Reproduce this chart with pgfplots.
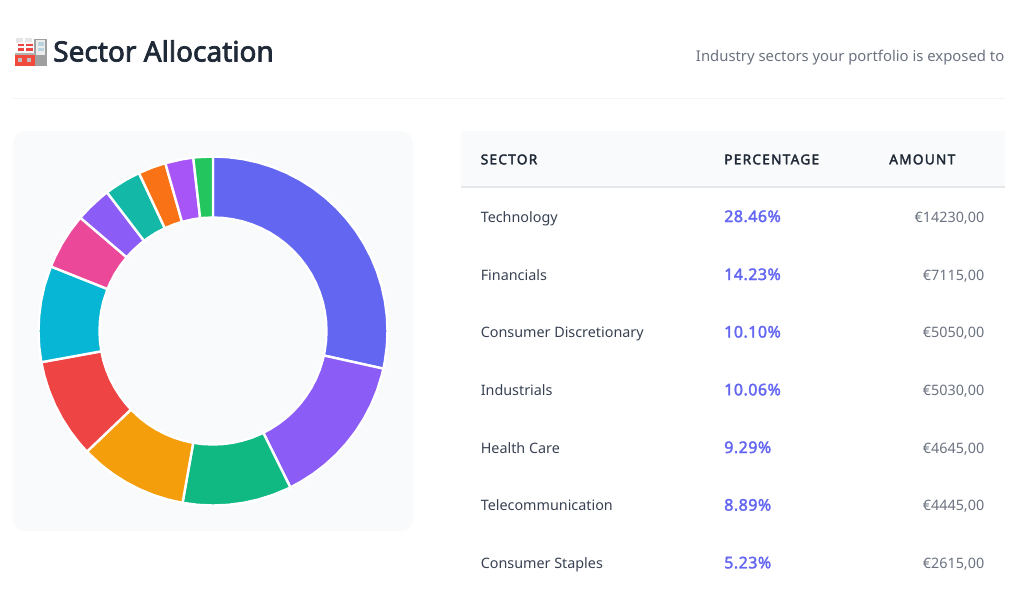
\documentclass[border=0pt]{standalone}
\usepackage{fontspec}
\setmainfont{Noto Sans}
\newfontfamily\titlefont[FakeBold=2.6]{Noto Sans}
\newfontfamily\pctfont[FakeBold=2.2,LetterSpace=3]{Noto Sans}
\newfontfamily\headfont[FakeBold=2.6,LetterSpace=9.5]{Noto Sans}
\usepackage{pgfplots}
\pgfplotsset{compat=1.18}
\usepgfplotslibrary{polar}

\definecolor{s1}{HTML}{6366F1}
\definecolor{s2}{HTML}{8B5CF6}
\definecolor{s3}{HTML}{10B981}
\definecolor{s4}{HTML}{F59E0B}
\definecolor{s5}{HTML}{EF4444}
\definecolor{s6}{HTML}{06B6D4}
\definecolor{s7}{HTML}{EC4899}
\definecolor{s8}{HTML}{8B5CF6}
\definecolor{s9}{HTML}{14B8A6}
\definecolor{s10}{HTML}{F97316}
\definecolor{s11}{HTML}{A855F7}
\definecolor{s12}{HTML}{22C55E}
\definecolor{ink}{HTML}{1F2937}
\definecolor{body}{HTML}{374151}
\definecolor{muted}{HTML}{6B7280}
\definecolor{panel}{HTML}{F9FAFB}
\definecolor{rulea}{HTML}{F3F4F6}
\definecolor{ruleb}{HTML}{E5E7EB}

% sizes given in css pixels, 1px = 0.75pt
\newcommand{\px}[1]{\fontsize{\fpeval{#1*0.75}}{\fpeval{#1*0.9}}\selectfont}
\newcommand{\row}[4]{%
  \node[anchor=base west,inner sep=0,text=body] at (480.5,#1) {\px{14.35}#2};
  \node[anchor=base west,inner sep=0,text=s1] at (724,#1) {\px{16}\pctfont #3};
  \node[anchor=base east,inner sep=0,text=muted] at (984.5,#1) {\px{14.35}#4};
}

\begin{document}
\begin{tikzpicture}
\path[use as bounding box] (0,0) rectangle (765pt,-445.5pt);

\begin{scope}[x=0.75pt,y=-0.75pt]
  % card and table header
  \fill[panel,rounded corners=9pt] (13,131) rectangle (413,531);
  \fill[panel] (461,131) rectangle (1005,186);
  \fill[ruleb] (461,186) rectangle (1005,188);
  \fill[rulea] (13,98) rectangle (1005,99);

  % factory emoji
  \fill[gray!20] (15.5,38) rectangle (23,43);
  \fill[gray!20] (25,38) rectangle (32,43);
  \fill[gray!8] (17.5,42) rectangle (23.5,55);
  \fill[gray!8] (26,42) rectangle (32.5,55);
  \fill[s5] (17.5,43.5) rectangle (23.5,46);
  \fill[s5] (17.5,48) rectangle (23.5,50.5);
  \fill[s5] (26,43.5) rectangle (32.5,46);
  \fill[s5] (26,48) rectangle (32.5,50.5);
  \fill[gray!75] (34.3,39) rectangle (46.5,66);
  \fill[gray!15] (35.5,40) rectangle (45,55);
  \fill[cyan!40!gray!45] (37.5,42) rectangle (44,46);
  \fill[cyan!40!gray!45] (37.5,47.5) rectangle (44,51);
  \fill[gray!60] (15,52.5) rectangle (35,55);
  \fill[s5!90!orange] (15,55) rectangle (35,66);
  \fill[gray!50] (18,57.5) rectangle (22,61.5);
  \fill[gray!50] (27,57.5) rectangle (31,61.5);

  % heading
  \node[anchor=base west,inner sep=0,text=ink] at (53,61.5) {\px{28}\titlefont Sector Allocation};
  \node[anchor=base east,inner sep=0,text=muted] at (1004.5,61.5) {\px{14.85}Industry sectors your portfolio is exposed to};

  % table
  \node[anchor=base west,inner sep=0,text=ink] at (480.5,164.3) {\px{13.6}\headfont SECTOR};
  \node[anchor=base west,inner sep=0,text=ink] at (724,164.3) {\px{13.6}\headfont PERCENTAGE};
  \node[anchor=base west,inner sep=0,text=ink] at (889,164.3) {\px{13.6}\headfont AMOUNT};
  \row{222}{Technology}{28.46\%}{€14230,00}
  \row{280}{Financials}{14.23\%}{€7115,00}
  \row{337.5}{Consumer Discretionary}{10.10\%}{€5050,00}
  \row{395.3}{Industrials}{10.06\%}{€5030,00}
  \row{453}{Health Care}{9.29\%}{€4645,00}
  \row{510.6}{Telecommunication}{8.89\%}{€4445,00}
  \row{568.3}{Consumer Staples}{5.23\%}{€2615,00}
\end{scope}

\begin{polaraxis}[
    at={(159.75pt,-248.25pt)},anchor=center,
    scale only axis,width=261pt,height=261pt,
    hide axis,clip=false,
    xmin=0,xmax=360,ymin=0,ymax=174,
    every axis plot/.append style={draw=white,line width=1.8pt,line join=miter,no markers},
  ]
  % Technology 28.46
  \addplot[fill=s1] coordinates {
    (90,174.5)(85,174.5)(80,174.5)(75,174.5)(70,174.5)(65,174.5)(60,174.5)(55,174.5)(50,174.5)(45,174.5)(40,174.5)(35,174.5)(30,174.5)(25,174.5)(20,174.5)(15,174.5)(10,174.5)(5,174.5)(0,174.5)(-5,174.5)(-10,174.5)(-12.456,174.5)
    (-12.456,113.5)(-10,113.5)(-5,113.5)(0,113.5)(5,113.5)(10,113.5)(15,113.5)(20,113.5)(25,113.5)(30,113.5)(35,113.5)(40,113.5)(45,113.5)(50,113.5)(55,113.5)(60,113.5)(65,113.5)(70,113.5)(75,113.5)(80,113.5)(85,113.5)(90,113.5)(90,174.5)};
  % Financials 14.23
  \addplot[fill=s2] coordinates {
    (-12.456,174.5)(-15,174.5)(-20,174.5)(-25,174.5)(-30,174.5)(-35,174.5)(-40,174.5)(-45,174.5)(-50,174.5)(-55,174.5)(-60,174.5)(-63.684,174.5)
    (-63.684,113.5)(-60,113.5)(-55,113.5)(-50,113.5)(-45,113.5)(-40,113.5)(-35,113.5)(-30,113.5)(-25,113.5)(-20,113.5)(-15,113.5)(-12.456,113.5)(-12.456,174.5)};
  % Consumer Discretionary 10.10
  \addplot[fill=s3] coordinates {
    (-63.684,174.5)(-65,174.5)(-70,174.5)(-75,174.5)(-80,174.5)(-85,174.5)(-90,174.5)(-95,174.5)(-100.044,174.5)
    (-100.044,113.5)(-95,113.5)(-90,113.5)(-85,113.5)(-80,113.5)(-75,113.5)(-70,113.5)(-65,113.5)(-63.684,113.5)(-63.684,174.5)};
  % Industrials 10.06
  \addplot[fill=s4] coordinates {
    (-100.044,174.5)(-105,174.5)(-110,174.5)(-115,174.5)(-120,174.5)(-125,174.5)(-130,174.5)(-136.26,174.5)
    (-136.26,113.5)(-130,113.5)(-125,113.5)(-120,113.5)(-115,113.5)(-110,113.5)(-105,113.5)(-100.044,113.5)(-100.044,174.5)};
  % Health Care 9.29
  \addplot[fill=s5] coordinates {
    (-136.26,174.5)(-140,174.5)(-145,174.5)(-150,174.5)(-155,174.5)(-160,174.5)(-165,174.5)(-169.704,174.5)
    (-169.704,113.5)(-165,113.5)(-160,113.5)(-155,113.5)(-150,113.5)(-145,113.5)(-140,113.5)(-136.26,113.5)(-136.26,174.5)};
  % Telecommunication 8.89
  \addplot[fill=s6] coordinates {
    (-169.704,174.5)(-175,174.5)(-180,174.5)(-185,174.5)(-190,174.5)(-195,174.5)(-201.708,174.5)
    (-201.708,113.5)(-195,113.5)(-190,113.5)(-185,113.5)(-180,113.5)(-175,113.5)(-169.704,113.5)(-169.704,174.5)};
  % Consumer Staples 5.23
  \addplot[fill=s7] coordinates {
    (-201.708,174.5)(-205,174.5)(-210,174.5)(-215,174.5)(-220.5,174.5)
    (-220.5,113.5)(-215,113.5)(-210,113.5)(-205,113.5)(-201.708,113.5)(-201.708,174.5)};
  % remaining sectors, below the visible rows
  \addplot[fill=s8] coordinates {
    (-220.5,174.5)(-225,174.5)(-230,174.5)(-232.6,174.5)
    (-232.6,113.5)(-230,113.5)(-225,113.5)(-220.5,113.5)(-220.5,174.5)};
  \addplot[fill=s9] coordinates {
    (-232.6,174.5)(-235,174.5)(-240,174.5)(-244.9,174.5)
    (-244.9,113.5)(-240,113.5)(-235,113.5)(-232.6,113.5)(-232.6,174.5)};
  \addplot[fill=s10] coordinates {
    (-244.9,174.5)(-250,174.5)(-254.15,174.5)
    (-254.15,113.5)(-250,113.5)(-244.9,113.5)(-244.9,174.5)};
  \addplot[fill=s11] coordinates {
    (-254.15,174.5)(-260,174.5)(-263.5,174.5)
    (-263.5,113.5)(-260,113.5)(-254.15,113.5)(-254.15,174.5)};
  \addplot[fill=s12] coordinates {
    (-263.5,174.5)(-265,174.5)(-270,174.5)
    (-270,113.5)(-265,113.5)(-263.5,113.5)(-263.5,174.5)};
\end{polaraxis}
\end{tikzpicture}
\end{document}
